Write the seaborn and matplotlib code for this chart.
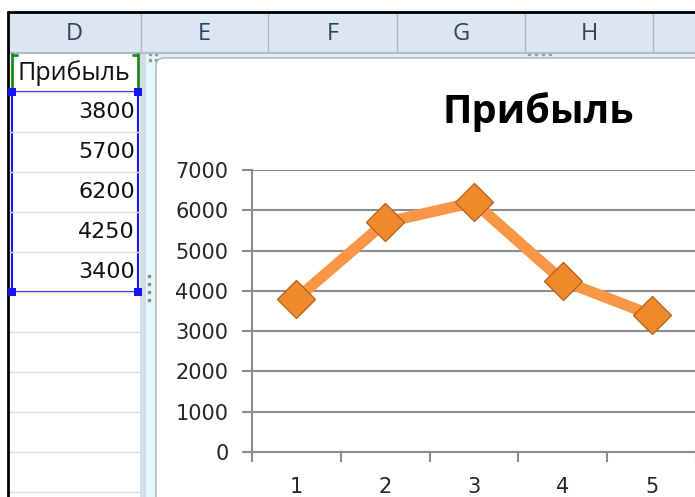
import numpy as np
import pandas as pd
import matplotlib.pyplot as plt
import matplotlib.patches as mpatches
import seaborn as sns

# data from the sheet (column D)
periods = [1, 2, 3, 4, 5]
profit = [3800, 5700, 6200, 4250, 3400]
series_name = "Прибыль"
columns = ["D", "E", "F", "G", "H"]
y_ticks = [0, 1000, 2000, 3000, 4000, 5000, 6000, 7000]

df = pd.DataFrame({"period": periods, "profit": profit})

sns.set_theme(style="white")
plt.rcParams["font.family"] = ["DejaVu Sans"]
word_font = ["Open Sans", "DejaVu Sans"]

W, H = 695, 497
fig = plt.figure(figsize=(W / 100, H / 100), dpi=100)

# --- spreadsheet background, drawn in pixel coords ---
bg = fig.add_axes([0, 0, 1, 1], zorder=0)
bg.set_xlim(0, W)
bg.set_ylim(H, 0)
bg.axis("off")

col_edges = [8, 141, 268, 397, 525, 653]
bg.add_patch(mpatches.Rectangle((8, 13), W - 8, 40, facecolor="#DCE6F1", edgecolor="none"))
bg.plot([8, W], [52.5, 52.5], color="#A7BCD3", lw=1.5)
for xe in col_edges[1:]:
    bg.plot([xe, xe], [13, 52], color="#A7BCD3", lw=1)
for i, c in enumerate(columns):
    bg.text((col_edges[i] + col_edges[i + 1]) / 2, 34, c, ha="center", va="center",
            fontsize=17, color="#2E4463", family=word_font)

# row lines in column D
for k in range(11):
    y = 92 + 40 * k
    bg.plot([8, 140], [y, y], color="#DADDE0", lw=1)

# cells
bg.text(74, 73, series_name, ha="center", va="center", fontsize=18, color="#111111",
        family=word_font)
for i, v in enumerate(profit):
    bg.text(135, 112 + 40 * i, str(v), ha="right", va="center", fontsize=16, color="#111111")

# selection: green header bracket + blue value range
bg.plot([12, 12], [54, 88], color="#1E8A1E", lw=2)
bg.plot([138, 138], [54, 88], color="#1E8A1E", lw=2)
bg.plot([12, 17], [54.5, 54.5], color="#1E8A1E", lw=2)
bg.plot([133, 138], [54.5, 54.5], color="#1E8A1E", lw=2)
bg.add_patch(mpatches.Rectangle((12, 92), 126, 200, fill=False, edgecolor="#1515F0", lw=1.5))
for cx, cy in [(12, 92), (138, 92), (12, 292), (138, 292)]:
    bg.add_patch(mpatches.Rectangle((cx - 4, cy - 4), 8, 8, facecolor="#1515F0",
                                    edgecolor="none", zorder=5))

# black sheet border
bg.plot([8, W], [12, 12], color="black", lw=2)
bg.plot([8, 8], [12, H], color="black", lw=2)

# chart frame strip
bg.add_patch(mpatches.Rectangle((140, 53), W - 140, 5, facecolor="#E8EDEF", edgecolor="none"))
bg.add_patch(mpatches.Rectangle((140, 53), 6, H - 53, facecolor="#D3DEE2", edgecolor="none"))
bg.add_patch(mpatches.Rectangle((146, 53), 10, H - 53, facecolor="#E4F8FB", edgecolor="none"))
bg.scatter([149, 149, 149, 149], [276, 284, 292, 300], s=4, color="#8A8A8A", marker="s")
bg.scatter([150, 150, 156, 156], [54, 60, 54, 60], s=3, color="#9A9A9A", marker="s")
bg.scatter([529, 536, 543, 550], [54, 54, 54, 54], s=3, color="#9A9A9A", marker="s")

# chart area
bg.add_patch(mpatches.FancyBboxPatch((156, 58), W, H, boxstyle="round,pad=0,rounding_size=8",
                                     facecolor="white", edgecolor="#B0B0B0", lw=1))
bg.text(538, 112, series_name, ha="center", va="center", fontsize=28.5, weight="bold",
        color="black", family=word_font)

# --- the line chart ---
ax = fig.add_axes([252 / W, (H - 452) / H, 444 / W, 282 / H], zorder=1)
ax.patch.set_alpha(0)
sns.lineplot(data=df, x="period", y="profit", ax=ax, color="#F79646", lw=8,
             marker="D", markersize=19, markerfacecolor="#EF8A2C",
             markeredgecolor="#B8651F", markeredgewidth=1, zorder=3)

ax.set_xlim(0.5, 5.5)
ax.set_ylim(0, 7000)
ax.set_yticks(y_ticks)
ax.set_xticks(periods)
ax.set_xticks([p - 0.5 for p in periods] + [periods[-1] + 0.5], minor=True)
ax.set_xlabel("")
ax.set_ylabel("")

grey = "#8C8C8C"
ax.yaxis.grid(True, color=grey, lw=1.5)
ax.xaxis.grid(False)
for s in ["top", "right"]:
    ax.spines[s].set_visible(False)
for s in ["left", "bottom"]:
    ax.spines[s].set_color(grey)
    ax.spines[s].set_linewidth(1.5)

ax.tick_params(axis="y", which="major", direction="out", length=7, width=1.5, color=grey,
               labelsize=15, labelcolor="#262626", pad=10, left=True)
ax.tick_params(axis="x", which="major", length=0, labelsize=15, labelcolor="#262626", pad=18)
ax.tick_params(axis="x", which="minor", direction="out", length=7, width=1.5, color=grey, bottom=True)

fig.savefig("out.png", dpi=100)
